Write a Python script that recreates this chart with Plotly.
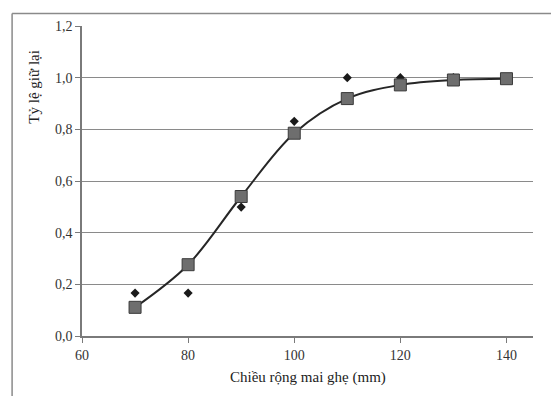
import plotly.graph_objects as go

width_mm = [70, 80, 90, 100, 110, 120, 130, 140]
fitted = [0.111, 0.276, 0.54, 0.785, 0.919, 0.972, 0.991, 0.996]
observed = [0.166, 0.166, 0.499, 0.831, 1.0, 1.0, 1.0, 1.0]
x_ticks = [60, 80, 100, 120, 140]
y_ticks = [0.0, 0.2, 0.4, 0.6, 0.8, 1.0, 1.2]

FONT = "Liberation Serif, DejaVu Serif, serif"

fig = go.Figure()
fig.add_trace(go.Scatter(
    x=width_mm, y=observed, mode="markers",
    marker=dict(symbol="diamond", size=7, color="#1a1a1a"),
    showlegend=False, cliponaxis=False))
fig.add_trace(go.Scatter(
    x=width_mm, y=fitted, mode="lines+markers",
    line=dict(shape="spline", smoothing=1.0, color="#262626", width=2),
    marker=dict(symbol="square", size=12, color="#6e6e6e",
                line=dict(color="#3a3a3a", width=1)),
    showlegend=False, cliponaxis=False))

fig.update_layout(
    width=551, height=388,
    margin=dict(l=74, r=26, t=11, b=60),
    paper_bgcolor="white", plot_bgcolor="white",
    separators=",.",
    font=dict(family=FONT, size=14, color="#333333"),
    xaxis=dict(range=[60, 145], tickvals=x_ticks, showgrid=False,
               showline=True, linecolor="#7a7a7a", linewidth=1.5,
               ticks="outside", ticklen=5, tickcolor="#7a7a7a",
               zeroline=False, tickfont=dict(family=FONT, size=14, color="#333333")),
    yaxis=dict(range=[0, 1.2], tickvals=y_ticks, tickformat=".1f",
               showgrid=True, gridcolor="#8a8a8a", gridwidth=1,
               showline=True, linecolor="#7a7a7a", linewidth=1.5,
               ticks="outside", ticklen=5, tickcolor="#7a7a7a",
               zeroline=False, tickfont=dict(family=FONT, size=14, color="#333333")),
    annotations=[
        dict(text="Chiều rộng mai ghẹ (mm)", xref="paper", yref="paper",
             x=0.5, y=-0.135, xanchor="center", yanchor="middle",
             showarrow=False, font=dict(family=FONT, size=15, color="#222222")),
        dict(text="Tỷ lệ giữ lại", xref="paper", yref="paper",
             x=-0.106, y=0.805, xanchor="center", yanchor="middle", textangle=-90,
             showarrow=False, font=dict(family=FONT, size=15, color="#222222")),
    ],
    shapes=[
        dict(type="line", xref="paper", yref="paper",
             x0=-0.155, x1=1.06, y0=1.04, y1=1.04,
             line=dict(color="#8a8a8a", width=1.5)),
        dict(type="line", xref="paper", yref="paper",
             x0=-0.155, x1=-0.155, y0=1.04, y1=-0.2,
             line=dict(color="#8a8a8a", width=1.5)),
    ],
)

fig.write_html("out.html")
